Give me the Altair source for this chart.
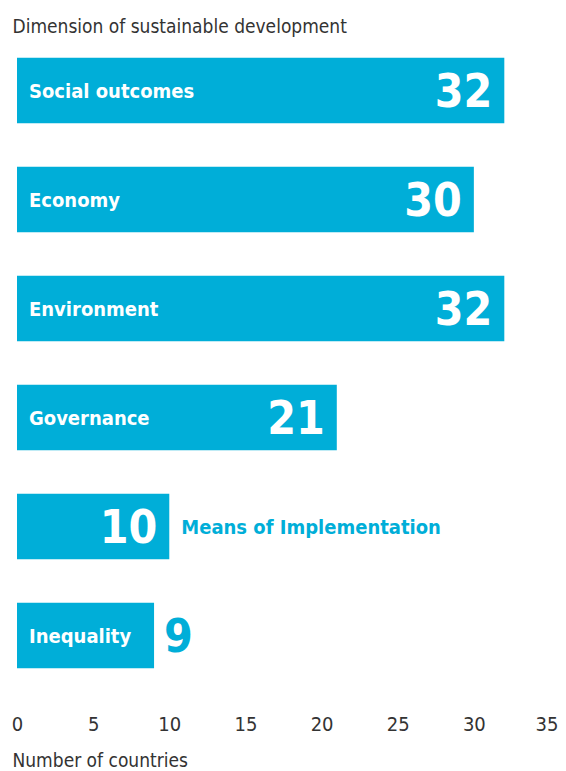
import altair as alt
import pandas as pd

categories = ["Social outcomes", "Economy", "Environment", "Governance",
              "Means of Implementation", "Inequality"]
values = [32, 30, 32, 21, 10, 9]
label_inside = [True, True, True, True, False, True]
number_inside = [True, True, True, True, True, False]
x_ticks = [0, 5, 10, 15, 20, 25, 30, 35]

df = pd.DataFrame({
    "category": categories,
    "value": values,
    "label_in": label_inside,
    "num_in": number_inside,
})

BLUE = "#00aed8"
FONT = "Liberation Sans Narrow, DejaVu Sans Condensed, Open Sans"

y_enc = alt.Y("category:N", sort=categories,
              scale=alt.Scale(paddingInner=0.4, paddingOuter=0.2),
              axis=alt.Axis(title="Dimension of sustainable development",
                            labels=False, ticks=False, domain=False,
                            titleAngle=0, titleAlign="left",
                            titleBaseline="alphabetic",
                            titleX=-5, titleY=-4,
                            titleFont=FONT, titleFontSize=19,
                            titleFontWeight="normal", titleColor="#333333"))
x_scale = alt.Scale(domain=[0, 35], nice=False)
x_axis = alt.Axis(values=x_ticks, title="Number of countries",
                  grid=False, domain=False, ticks=False, tickSize=0,
                  labelFlush=False,
                  labelAlign={"condition": {"test": "datum.value == 35", "value": "right"},
                              "value": "center"},
                  labelOffset={"condition": {"test": "datum.value == 35", "value": 8},
                               "value": 0},
                  labelPadding=34, labelFont=FONT, labelFontSize=20,
                  labelColor="#333333", labelBaseline="middle",
                  titleFont=FONT, titleFontSize=19, titleFontWeight="normal",
                  titleColor="#333333", titleAnchor="start", titleAlign="left",
                  titleX=-5, titleY=76, titleBaseline="alphabetic")

base = alt.Chart(df)

bars = base.mark_bar(color=BLUE).encode(
    x=alt.X("value:Q", scale=x_scale, axis=x_axis),
    y=y_enc,
)

cat_in = base.transform_filter("datum.label_in").mark_text(
    align="left", baseline="middle", dx=12, dy=1, font=FONT,
    fontSize=20, fontWeight="bold", color="white"
).encode(x=alt.datum(0), y=alt.Y("category:N", sort=categories), text="category:N")

cat_out = base.transform_filter("!datum.label_in").mark_text(
    align="left", baseline="middle", dx=12, dy=1, font=FONT,
    fontSize=20, fontWeight="bold", color=BLUE
).encode(x="value:Q", y=alt.Y("category:N", sort=categories), text="category:N")

num_in = base.transform_filter("datum.num_in").mark_text(
    align="right", baseline="middle", dx=-12, dy=2, font=FONT,
    fontSize=46, fontWeight="bold", color="white"
).encode(x="value:Q", y=alt.Y("category:N", sort=categories), text="value:Q")

num_out = base.transform_filter("!datum.num_in").mark_text(
    align="left", baseline="middle", dx=10, dy=2, font=FONT,
    fontSize=46, fontWeight="bold", color=BLUE
).encode(x="value:Q", y=alt.Y("category:N", sort=categories), text="value:Q")

chart = alt.layer(bars, cat_in, cat_out, num_in, num_out).properties(
    width=533, height=654,
    autosize=alt.AutoSizeParams(type="none"),
    padding={"left": 9, "top": 28, "right": 8, "bottom": 80},
).configure_view(stroke=None)

chart.save("out.html", embed_options={"renderer": "svg", "actions": False})
